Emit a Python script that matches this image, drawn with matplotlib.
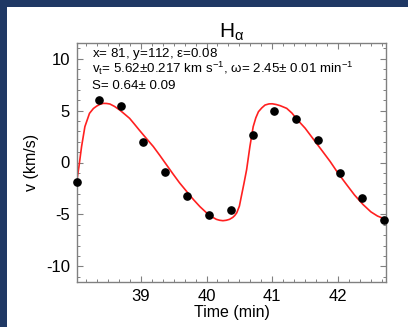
import numpy as np
import matplotlib
matplotlib.use("Agg")
import matplotlib.pyplot as plt
from matplotlib.ticker import MultipleLocator
from matplotlib.patches import Rectangle

plt.rcParams['font.family'] = ['Liberation Sans', 'DejaVu Sans']
plt.rcParams['mathtext.fontset'] = 'custom'
plt.rcParams['mathtext.rm'] = 'Liberation Sans'
plt.rcParams['mathtext.it'] = 'Liberation Sans'
plt.rcParams['axes.unicode_minus'] = False

# observed velocities (Time in min, v in km/s)
obs_t = [38.033, 38.367, 38.700, 39.033, 39.367, 39.700, 40.033, 40.367,
         40.700, 41.033, 41.367, 41.700, 42.033, 42.367, 42.700]
obs_v = [-1.9, 6.03, 5.45, 2.0, -0.87, -3.27, -5.1, -4.58,
         2.6, 4.97, 4.17, 2.2, -1.03, -3.43, -5.5]

# fitted model curve
fit_t = [38.03, 38.06, 38.10, 38.15, 38.22, 38.28, 38.33, 38.38, 38.43, 38.48,
         38.53, 38.60, 38.68, 38.75, 38.83, 38.90, 38.98, 39.08, 39.19, 39.29,
         39.39, 39.49, 39.59, 39.70, 39.80, 39.90, 40.00, 40.08, 40.15, 40.20,
         40.25, 40.30, 40.35, 40.40, 40.43, 40.46, 40.50, 40.53, 40.57, 40.61,
         40.66, 40.71, 40.75, 40.79, 40.84, 40.89, 40.95, 41.00, 41.06, 41.12,
         41.22, 41.30, 41.37, 41.50, 41.62, 41.75, 41.88, 42.00, 42.13, 42.25,
         42.38, 42.50, 42.60, 42.69, 42.73]
fit_v = [-1.65, -0.37, 1.55, 3.45, 4.73, 5.20, 5.43, 5.60, 5.69, 5.68,
         5.63, 5.40, 5.05, 4.68, 4.25, 3.72, 3.10, 2.35, 1.54, 0.68,
         -0.21, -1.10, -1.96, -2.80, -3.56, -4.25, -4.84, -5.22, -5.47, -5.56,
         -5.60, -5.56, -5.47, -5.28, -5.10, -4.84, -4.20, -3.25, -2.00, -0.69,
         1.54, 3.45, 4.30, 4.89, 5.25, 5.53, 5.64, 5.65, 5.58, 5.47,
         5.21, 4.75, 4.20, 3.30, 2.29, 1.20, 0.10, -1.02, -2.12, -3.12,
         -4.04, -4.75, -5.15, -5.38, -5.50]

xlim = (38.03, 42.73)
ylim = (-11.5, 11.5)
x_major = [39, 40, 41, 42]
y_major = [-10, -5, 0, 5, 10]

fig = plt.figure(figsize=(4.08, 3.27), dpi=100, facecolor='#1f3864')
panel = Rectangle((7 / 408, 0), 1, 1 - 7 / 327, transform=fig.transFigure,
                  facecolor='white', edgecolor='none', zorder=-10)
fig.add_artist(panel)

ax = fig.add_axes([77 / 408, 45 / 327, 309 / 408, 239 / 327])
ax.plot(fit_t, fit_v, color='#ff2020', lw=1.2, zorder=2, clip_on=True)
ax.plot(obs_t, obs_v, 'o', color='black', ms=5.2, zorder=3, clip_on=False)

ax.set_xlim(*xlim)
ax.set_ylim(*ylim)
ax.set_xticks(x_major)
ax.set_yticks(y_major)
ax.xaxis.set_minor_locator(MultipleLocator(1 / 6))
ax.yaxis.set_minor_locator(MultipleLocator(1))
ax.tick_params(which='both', direction='in', top=True, right=True,
               color='#808080', labelsize=12, pad=5)
ax.tick_params(which='major', length=4.5, width=0.8)
ax.tick_params(which='minor', length=2.5, width=0.7)
for s in ax.spines.values():
    s.set_color('#808080')
    s.set_linewidth(1.0)

ax.set_xlabel('Time (min)', fontsize=11.5, labelpad=1)
ax.set_ylabel('v (km/s)', fontsize=11.5, labelpad=5)
ax.set_title(r'H$_{\alpha}$', fontsize=15, pad=3)

tx = 0.0485
ax.text(tx, 0.942, r'x= 81, y=112, $\epsilon$=0.08', fontsize=9.6,
        va='baseline', transform=ax.transAxes)
ax.text(tx, 0.874, r'v$_t$= 5.62±0.217 km s$^{-1}$, $\omega$= 2.45± 0.01 min$^{-1}$',
        fontsize=9.6, va='baseline', transform=ax.transAxes)
ax.text(tx, 0.808, 'S= 0.64± 0.09', fontsize=9.6, va='baseline',
        transform=ax.transAxes)

fig.savefig('out.png', dpi=100, facecolor=fig.get_facecolor())
